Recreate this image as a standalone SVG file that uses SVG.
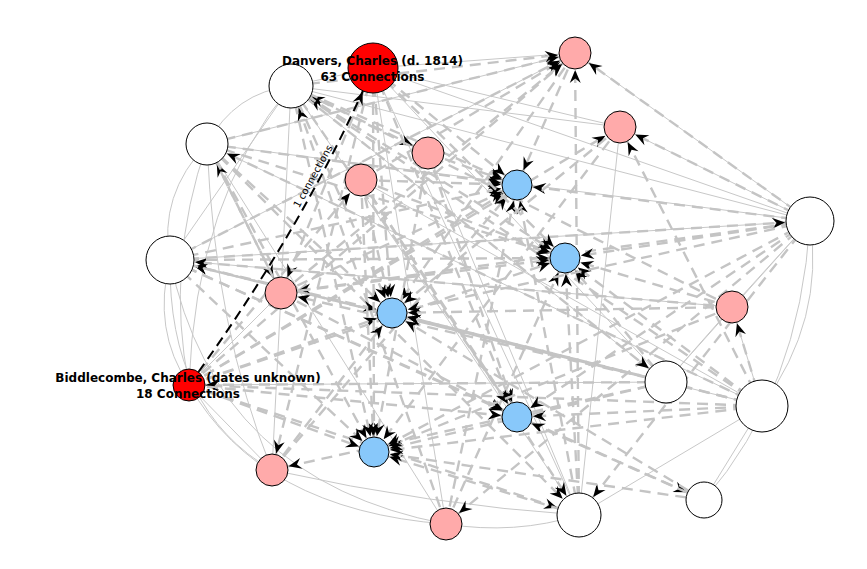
<svg xmlns="http://www.w3.org/2000/svg" width="867" height="569" viewBox="0 0 867 569">
<style>
.s{fill:none;stroke:#c8c8c8;stroke-width:1}
.d{fill:none;stroke:#c4c4c4;stroke-width:2.4;stroke-dasharray:11 7}
.k{fill:none;stroke:#000;stroke-width:2;stroke-dasharray:10 6;marker-end:url(#a25)}
.m15{marker-end:url(#a15)}.m16{marker-end:url(#a16)}.m18{marker-end:url(#a18)}.m21{marker-end:url(#a21)}.m22{marker-end:url(#a22)}.m24{marker-end:url(#a24)}
.n circle{stroke:#000;stroke-width:1}
.w{fill:#fff}.r{fill:#ff0000}.p{fill:#ffaaaa}.b{fill:#88c8fa}
.lbl{font-family:"DejaVu Sans",Verdana,sans-serif;font-weight:bold;font-size:12px;fill:#000;text-anchor:middle}
.el{font-family:"DejaVu Sans",Verdana,sans-serif;font-size:10px;fill:#000;text-anchor:middle}
</style>
<defs>
<marker id="a15" markerUnits="userSpaceOnUse" markerWidth="30" markerHeight="30" refX="16" refY="0" orient="auto" overflow="visible"><path d="M0,0L-13,-5.5L-8.5,0L-13,5.5Z" fill="#000"/></marker>
<marker id="a16" markerUnits="userSpaceOnUse" markerWidth="30" markerHeight="30" refX="17" refY="0" orient="auto" overflow="visible"><path d="M0,0L-13,-5.5L-8.5,0L-13,5.5Z" fill="#000"/></marker>
<marker id="a18" markerUnits="userSpaceOnUse" markerWidth="30" markerHeight="30" refX="19" refY="0" orient="auto" overflow="visible"><path d="M0,0L-13,-5.5L-8.5,0L-13,5.5Z" fill="#000"/></marker>
<marker id="a21" markerUnits="userSpaceOnUse" markerWidth="30" markerHeight="30" refX="22" refY="0" orient="auto" overflow="visible"><path d="M0,0L-13,-5.5L-8.5,0L-13,5.5Z" fill="#000"/></marker>
<marker id="a22" markerUnits="userSpaceOnUse" markerWidth="30" markerHeight="30" refX="23" refY="0" orient="auto" overflow="visible"><path d="M0,0L-13,-5.5L-8.5,0L-13,5.5Z" fill="#000"/></marker>
<marker id="a24" markerUnits="userSpaceOnUse" markerWidth="30" markerHeight="30" refX="25" refY="0" orient="auto" overflow="visible"><path d="M0,0L-13,-5.5L-8.5,0L-13,5.5Z" fill="#000"/></marker>
<marker id="a25" markerUnits="userSpaceOnUse" markerWidth="30" markerHeight="30" refX="26" refY="0" orient="auto" overflow="visible"><path d="M0,0L-13,-5.5L-8.5,0L-13,5.5Z" fill="#000"/></marker>
</defs>
<rect width="867" height="569" fill="#fff"/>
<g id="edges">
<path class="s" d="M291,86Q235,92 207,144"/>
<path class="s" d="M207,144Q158,195 170,260"/>
<path class="s" d="M170,260Q152,330 189,385"/>
<path class="s" d="M170,260Q168,410 272,470"/>
<path class="s" d="M207,144Q165,265 189,385"/>
<path class="s" d="M170,260Q215,480 446,524"/>
<path class="s" d="M189,385Q260,510 446,524"/>
<path class="s" d="M272,470Q430,505 579,515"/>
<path class="s" d="M446,524Q515,535 579,515"/>
<path class="s" d="M579,515L762,406"/>
<path class="s" d="M704,500L762,406"/>
<path class="s" d="M704,500Q800,390 810,221"/>
<path class="s" d="M762,406Q825,320 810,221"/>
<path class="s" d="M666,382L810,221"/>
<path class="s" d="M732,307L810,221"/>
<path class="s" d="M762,406L732,307"/>
<path class="s" d="M666,382L732,307"/>
<path class="s" d="M810,221L291,86"/>
<path class="s" d="M810,221L207,144"/>
<path class="s" d="M810,221L170,260"/>
<path class="s" d="M810,221L373,68"/>
<path class="s" d="M810,221L575,53"/>
<path class="s" d="M810,221L620,127"/>
<path class="s" d="M291,86L373,68"/>
<path class="s" d="M291,86L170,260"/>
<path class="s" d="M207,144L575,53"/>
<path class="s" d="M373,68L575,53"/>
<path class="s" d="M373,68L620,127"/>
<path class="s" d="M373,68L579,515"/>
<path class="s" d="M373,68L666,382"/>
<path class="s" d="M291,86L666,382"/>
<path class="s" d="M207,144L762,406"/>
<path class="s" d="M170,260L666,382"/>
<path class="s" d="M170,260L762,406"/>
<path class="s" d="M189,385L666,382"/>
<path class="s" d="M189,385L281,293"/>
<path class="s" d="M291,86L281,293"/>
<path class="s" d="M361,180L762,406"/>
<path class="s" d="M428,153L579,515"/>
<path class="s" d="M620,127L579,515"/>
<path class="s" d="M373,68L446,524"/>
<path class="s" d="M281,293L272,470"/>
<path class="s" d="M189,385L272,470"/>
<path class="s" d="M207,144L446,524"/>
<path class="s" d="M291,86L620,127"/>
<path class="s" d="M170,260L732,307"/>
<path class="s" d="M291,86L579,515"/>
<path class="s" d="M170,260L575,53"/>
<path class="s" d="M189,385Q195,200 291,86"/>
<path class="s" d="M207,144Q215,330 272,470"/>

<path class="d m16" d="M207,144L575,53"/>
<path class="d m16" d="M291,86L575,53"/>
<path class="d m16" d="M361,180L575,53"/>
<path class="d m16" d="M281,293L575,53"/>
<path class="d m16" d="M170,260L575,53"/>
<path class="d m16" d="M189,385L575,53"/>
<path class="d m16" d="M579,515L575,53"/>
<path class="d m16" d="M810,221L575,53"/>
<path class="d m16" d="M189,385L620,127"/>
<path class="d m16" d="M762,406L620,127"/>
<path class="d m16" d="M810,221L620,127"/>
<path class="d m16" d="M291,86L428,153"/>
<path class="d m16" d="M189,385L361,180"/>
<path class="d m16" d="M207,144L281,293"/>
<path class="d m16" d="M373,68L281,293"/>
<path class="d m16" d="M810,221L281,293"/>
<path class="d m16" d="M666,382L281,293"/>
<path class="d m16" d="M762,406L732,307"/>
<path class="d m16" d="M810,221L446,524"/>
<path class="d m16" d="M373,68L272,470"/>
<path class="d m16" d="M666,382L272,470"/>
<path class="d m16" d="M666,382L189,385"/>
<path class="d m16" d="M762,406L189,385"/>
<path class="d m22" d="M762,406L291,86"/>
<path class="d m22" d="M732,307L291,86"/>
<path class="d m22" d="M446,524L291,86"/>
<path class="d m21" d="M762,406L207,144"/>
<path class="d m21" d="M281,293L207,144"/>
<path class="d m24" d="M762,406L170,260"/>
<path class="d m24" d="M666,382L170,260"/>
<path class="d m24" d="M732,307L170,260"/>
<path class="d m22" d="M361,180L579,515"/>
<path class="d m22" d="M189,385L579,515"/>
<path class="d m22" d="M810,221L579,515"/>
<path class="d m22" d="M207,144L579,515"/>
<path class="d m18" d="M170,260L704,500"/>
<path class="d m21" d="M291,86L666,382"/>
<path class="d m24" d="M170,260L810,221"/>

<path class="d m15" d="M207,144L517,185"/>
<path class="d m15" d="M291,86L517,185"/>
<path class="d m15" d="M170,260L517,185"/>
<path class="d m15" d="M373,68L517,185"/>
<path class="d m15" d="M361,180L517,185"/>
<path class="d m15" d="M428,153L517,185"/>
<path class="d m15" d="M281,293L517,185"/>
<path class="d m15" d="M189,385L517,185"/>
<path class="d m15" d="M446,524L517,185"/>
<path class="d m15" d="M272,470L517,185"/>
<path class="d m15" d="M810,221L517,185"/>
<path class="d m15" d="M575,53L517,185"/>
<path class="d m15" d="M579,515L517,185"/>

<path class="d m15" d="M170,260L565,258"/>
<path class="d m15" d="M207,144L565,258"/>
<path class="d m15" d="M281,293L565,258"/>
<path class="d m15" d="M361,180L565,258"/>
<path class="d m15" d="M373,68L565,258"/>
<path class="d m15" d="M291,86L565,258"/>
<path class="d m15" d="M810,221L565,258"/>
<path class="d m15" d="M762,406L565,258"/>
<path class="d m15" d="M732,307L565,258"/>
<path class="d m15" d="M579,515L565,258"/>
<path class="d m15" d="M446,524L565,258"/>
<path class="d m15" d="M666,382L565,258"/>
<path class="d m15" d="M189,385L565,258"/>

<path class="d m15" d="M170,260L392,313"/>
<path class="d m15" d="M189,385L392,313"/>
<path class="d m15" d="M373,68L392,313"/>
<path class="d m15" d="M361,180L392,313"/>
<path class="d m15" d="M810,221L392,313"/>
<path class="d m15" d="M762,406L392,313"/>
<path class="d m15" d="M666,382L392,313"/>
<path class="d m15" d="M732,307L392,313"/>
<path class="d m15" d="M620,127L392,313"/>
<path class="d m15" d="M704,500L392,313"/>
<path class="d m15" d="M272,470L392,313"/>
<path class="d m15" d="M207,144L392,313"/>
<path class="d m15" d="M291,86L392,313"/>
<path class="d m15" d="M575,53L392,313"/>

<path class="d m15" d="M189,385L517,417"/>
<path class="d m15" d="M170,260L517,417"/>
<path class="d m15" d="M281,293L517,417"/>
<path class="d m15" d="M762,406L517,417"/>
<path class="d m15" d="M810,221L517,417"/>
<path class="d m15" d="M373,68L517,417"/>
<path class="d m15" d="M361,180L517,417"/>
<path class="d m15" d="M291,86L517,417"/>
<path class="d m15" d="M704,500L517,417"/>
<path class="d m15" d="M428,153L517,417"/>

<path class="d m15" d="M373,68L374,452"/>
<path class="d m15" d="M428,153L374,452"/>
<path class="d m15" d="M361,180L374,452"/>
<path class="d m15" d="M291,86L374,452"/>
<path class="d m15" d="M189,385L374,452"/>
<path class="d m15" d="M762,406L374,452"/>
<path class="d m15" d="M666,382L374,452"/>
<path class="d m15" d="M810,221L374,452"/>
<path class="d m15" d="M732,307L374,452"/>
<path class="d m15" d="M579,515L374,452"/>
<path class="d m15" d="M704,500L374,452"/>
<path class="d m15" d="M207,144L374,452"/>
<path class="d m15" d="M170,260L374,452"/>
<path class="d m15" d="M620,127L374,452"/>

<path class="k" d="M189,385Q305,226 373,68"/>
<text class="el" transform="translate(316,178) rotate(-61)">1 connections</text>
</g>
<g id="n-w2" class="n"><circle class="w" cx="291" cy="86" r="22"/></g>
<g id="n-w3" class="n"><circle class="w" cx="207" cy="144" r="21"/></g>
<g id="n-w4" class="n"><circle class="w" cx="170" cy="260" r="24"/></g>
<g id="n-p6" class="n"><circle class="p" cx="272" cy="470" r="16"/></g>
<g id="n-p7" class="n"><circle class="p" cx="446" cy="524" r="16"/></g>
<g id="n-w8" class="n"><circle class="w" cx="579" cy="515" r="22"/></g>
<g id="n-w9" class="n"><circle class="w" cx="704" cy="500" r="18"/></g>
<g id="n-w10" class="n"><circle class="w" cx="762" cy="406" r="26"/></g>
<g id="n-w11" class="n"><circle class="w" cx="666" cy="382" r="21"/></g>
<g id="n-p12" class="n"><circle class="p" cx="732" cy="307" r="16"/></g>
<g id="n-w13" class="n"><circle class="w" cx="810" cy="221" r="24"/></g>
<g id="n-p14" class="n"><circle class="p" cx="620" cy="127" r="16"/></g>
<g id="n-p15" class="n"><circle class="p" cx="575" cy="53" r="16"/></g>
<g id="n-p16" class="n"><circle class="p" cx="428" cy="153" r="16"/></g>
<g id="n-p17" class="n"><circle class="p" cx="361" cy="180" r="16"/></g>
<g id="n-p18" class="n"><circle class="p" cx="281" cy="293" r="16"/></g>
<g id="n-u19" class="n"><circle class="b" cx="517" cy="185" r="15"/></g>
<g id="n-u20" class="n"><circle class="b" cx="565" cy="258" r="15"/></g>
<g id="n-u21" class="n"><circle class="b" cx="392" cy="313" r="15"/></g>
<g id="n-u22" class="n"><circle class="b" cx="517" cy="417" r="15"/></g>
<g id="n-u23" class="n"><circle class="b" cx="374" cy="452" r="15"/></g>
<g id="n-danvers" class="n"><circle class="r" cx="373" cy="68" r="25"/>
<text class="lbl" x="372.5" y="65">Danvers, Charles (d. 1814)</text>
<text class="lbl" x="372.5" y="81">63 Connections</text></g>
<g id="n-biddlecombe" class="n"><circle class="r" cx="189" cy="385" r="16"/>
<text class="lbl" x="188" y="382">Biddlecombe, Charles (dates unknown)</text>
<text class="lbl" x="188" y="398">18 Connections</text></g>
</svg>
